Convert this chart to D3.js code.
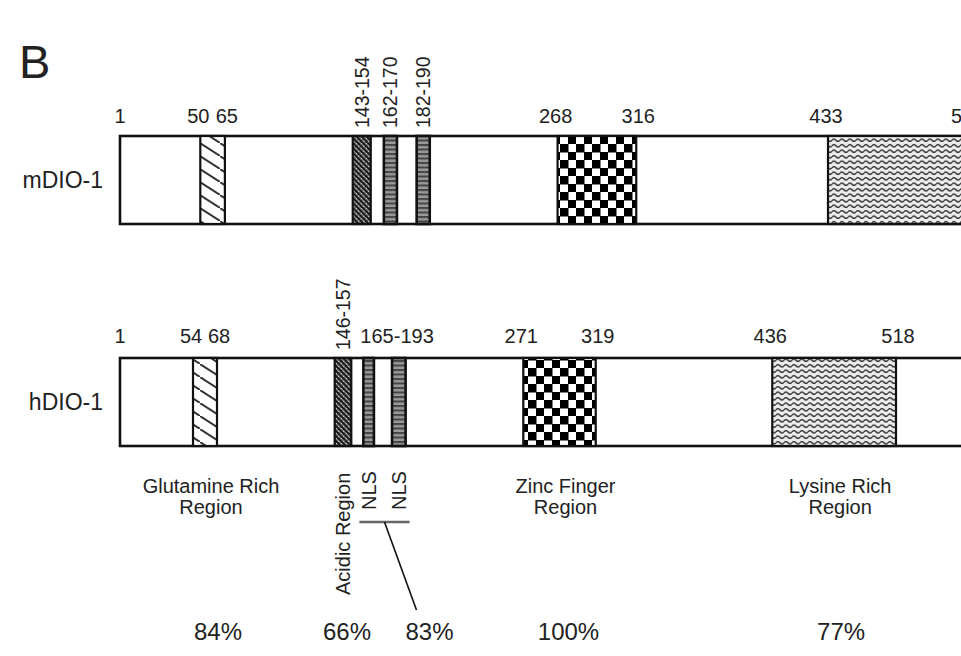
<!DOCTYPE html>
<html>
<head>
<meta charset="utf-8">
<script src="https://cdn.jsdelivr.net/npm/d3@7"></script>
<style>
  body { margin: 0; background: #fff; }
  svg { display: block; }
  text { font-family: "Liberation Sans", Arial, sans-serif; fill: #222; }
</style>
</head>
<body>
<div id="chart"></div>
<script>
// Proteins and their domains (amino-acid positions)
const proteins = ['mDIO-1', 'hDIO-1'];
const proteinLength = [562, 562];
const domainTypes = ['glutamine', 'acidic', 'nls', 'nls', 'zinc', 'lysine'];
const mouseStart = [50, 143, 162, 182, 268, 433];
const mouseEnd = [65, 154, 170, 190, 316, 517];
const humanStart = [54, 146, 165, 184, 271, 436];
const humanEnd = [68, 157, 172, 193, 319, 518];

// Position labels above the bars
const mouseTicks = [1, 50, 65, 268, 316, 433, 517];
const mouseRangeLabels = ['143-154', '162-170', '182-190'];
const humanTicks = [1, 54, 68, 271, 319, 436, 518];
const humanRangeLabels = ['146-157'];
const humanNlsLabel = '165-193';

// Region names and mouse/human identity
const regionNames = [['Glutamine Rich', 'Region'], ['Zinc Finger', 'Region'], ['Lysine Rich', 'Region']];
const regionIndex = [0, 4, 5];
const identity = ['84%', '66%', '83%', '100%', '77%'];

// Size
const width = 961;
const height = 656;

// Scales (the drawing is schematic, the human one is not strictly linear)
const xMouse = d3.scaleLinear().domain([1, 433]).range([120, 828]);
const xHuman = d3.scaleLinear().domain([1, 54, 68, 518]).range([120, 193, 217, 896]);
const xScales = [xMouse, xHuman];
const rowTop = d3.scalePoint().domain(proteins).range([136, 358]);
const barHeight = 88;

const svg = d3.select('#chart')
    .append('svg')
    .attr('width', width)
    .attr('height', height);

// Fill patterns
const defs = svg.append('defs');

function pattern(id, w, h) {
    return defs.append('pattern')
        .attr('id', id)
        .attr('patternUnits', 'userSpaceOnUse')
        .attr('width', w)
        .attr('height', h);
}

let p = pattern('p-glutamine', 20, 13);
p.append('rect').attr('width', 20).attr('height', 13).attr('fill', '#fff');
p.append('path').attr('d', 'M-20,-13L40,26').attr('stroke', '#333').attr('stroke-width', 1.9);

p = pattern('p-acidic', 5, 5);
p.append('rect').attr('width', 5).attr('height', 5).attr('fill', '#777');
p.append('path').attr('d', 'M0,5L5,0M-1,1L1,-1M4,6L6,4').attr('stroke', '#ccc').attr('stroke-width', 0.9);
p.append('path').attr('d', 'M0,0L5,5M-1,4L1,6M4,-1L6,1').attr('stroke', '#111').attr('stroke-width', 1.6);

p = pattern('p-nls', 4, 4.5);
p.append('rect').attr('width', 4).attr('height', 4.5).attr('fill', '#999');
p.append('rect').attr('width', 4).attr('height', 2).attr('fill', '#444');

p = pattern('p-zinc', 16, 16);
p.append('rect').attr('width', 16).attr('height', 16).attr('fill', '#fff');
p.append('rect').attr('width', 8.5).attr('height', 8.5).attr('fill', '#000');
p.append('rect').attr('x', 8).attr('y', 8).attr('width', 8.5).attr('height', 8.5).attr('fill', '#000');

p = pattern('p-lysine', 8, 5.5);
p.append('rect').attr('width', 8).attr('height', 5.5).attr('fill', '#ececec');
p.append('path').attr('d', 'M0,2.75 Q2,0.4 4,2.75 T8,2.75').attr('fill', 'none')
    .attr('stroke', '#222').attr('stroke-width', 1.3);

// Panel letter
svg.append('text')
    .attr('x', 19)
    .attr('y', 78)
    .attr('font-size', 47)
    .text('B');

const starts = [mouseStart, humanStart];
const ends = [mouseEnd, humanEnd];

proteins.forEach((name, i) => {
    const x = xScales[i];
    const top = rowTop(name);
    const g = svg.append('g');

    // Protein name
    g.append('text')
        .attr('x', 103)
        .attr('y', top + barHeight / 2 + 8)
        .attr('text-anchor', 'end')
        .attr('font-size', 23)
        .text(name);

    // Whole protein bar
    g.append('rect')
        .attr('x', x(1))
        .attr('y', top)
        .attr('width', x(proteinLength[i]) - x(1))
        .attr('height', barHeight)
        .attr('fill', '#fff')
        .attr('stroke', '#111')
        .attr('stroke-width', 2.6);

    // Domains
    const domains = domainTypes.map((t, k) => ({ type: t, start: starts[i][k], end: ends[i][k] }));
    g.selectAll('.domain')
        .data(domains)
        .join('rect')
        .attr('class', 'domain')
        .attr('x', d => x(d.start))
        .attr('y', top)
        .attr('width', d => x(d.end) - x(d.start))
        .attr('height', barHeight)
        .attr('fill', d => `url(#p-${d.type})`)
        .attr('stroke', '#111')
        .attr('stroke-width', d => d.type === 'nls' ? 2.6 : 2.2);

    // Horizontal position labels (start labels nudged left, end labels right)
    const ticks = i === 0 ? mouseTicks : humanTicks;
    const labelY = i === 0 ? top - 13 : top - 15;
    g.selectAll('.tick')
        .data(ticks)
        .join('text')
        .attr('class', 'tick')
        .attr('x', d => x(d) + (starts[i].includes(d) ? -2 : ends[i].includes(d) ? 2 : 0))
        .attr('y', labelY)
        .attr('text-anchor', 'middle')
        .attr('font-size', 20)
        .text(d => d);

    // Rotated range labels over the small domains
    const ranges = i === 0 ? mouseRangeLabels : humanRangeLabels;
    g.selectAll('.range')
        .data(ranges)
        .join('text')
        .attr('class', 'range')
        .attr('transform', (d, k) => {
            const cx = (x(domains[k + 1].start) + x(domains[k + 1].end)) / 2;
            return `translate(${cx + 7},${top - 8}) rotate(-90)`;
        })
        .attr('font-size', 19.5)
        .text(d => d);
});

// Human NLS range written across both NLS boxes
svg.append('text')
    .attr('x', xHuman(humanStart[2]) - 3)
    .attr('y', rowTop('hDIO-1') - 15)
    .attr('font-size', 20)
    .text(humanNlsLabel);

// Region names under the human bar
const center = k => (xHuman(humanStart[k]) + xHuman(humanEnd[k])) / 2;

regionNames.forEach((lines, j) => {
    const t = svg.append('text')
        .attr('text-anchor', 'middle')
        .attr('font-size', 20);
    lines.forEach((line, n) => {
        t.append('tspan')
            .attr('x', center(regionIndex[j]) + 6)
            .attr('y', 493 + n * 21)
            .text(line);
    });
});

// Vertical labels for acidic region and NLS
svg.append('text')
    .attr('transform', `translate(${center(1) + 7},595) rotate(-90)`)
    .attr('font-size', 20)
    .text('Acidic Region');

[2, 3].forEach(k => {
    svg.append('text')
        .attr('transform', `translate(${center(k) + 7},510) rotate(-90)`)
        .attr('font-size', 20)
        .text('NLS');
});

// Bracket joining both NLS and pointer to their identity value
const bracketL = xHuman(humanStart[2]) - 4;
const bracketR = xHuman(humanEnd[3]) + 4;
const bracketC = (bracketL + bracketR) / 2;
svg.append('line')
    .attr('x1', bracketL).attr('x2', bracketR)
    .attr('y1', 522).attr('y2', 522)
    .attr('stroke', '#666').attr('stroke-width', 2.6);
svg.append('line')
    .attr('x1', bracketC).attr('y1', 522)
    .attr('x2', bracketC + 32).attr('y2', 610)
    .attr('stroke', '#111').attr('stroke-width', 1.6);

// Identity percentages
const identityX = [center(0) + 13, center(1) + 4, bracketC + 45, center(4) + 9, center(5) + 7];
svg.selectAll('.identity')
    .data(identity)
    .join('text')
    .attr('class', 'identity')
    .attr('x', (d, k) => identityX[k])
    .attr('y', 640)
    .attr('text-anchor', 'middle')
    .attr('font-size', 24)
    .text(d => d);
</script>
</body>
</html>
